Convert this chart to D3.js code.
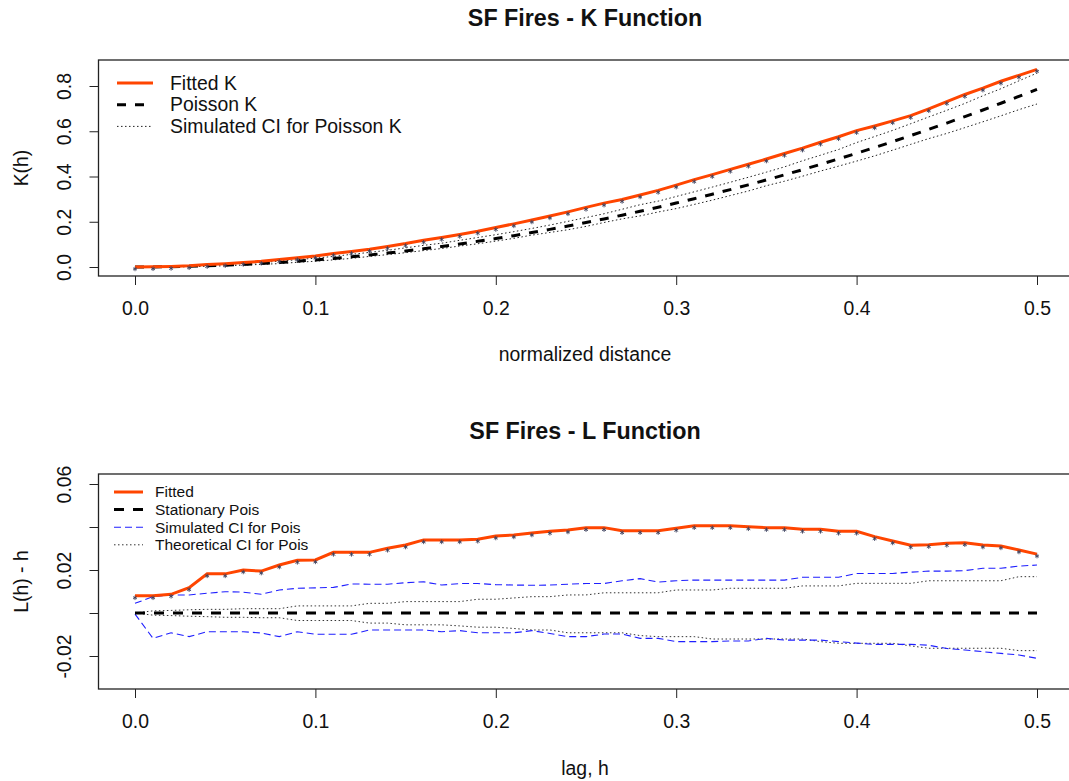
<!DOCTYPE html>
<html>
<head>
<meta charset="utf-8">
<script src="https://cdn.jsdelivr.net/npm/d3@7"></script>
<style>
  html, body { margin: 0; padding: 0; background: #fff; }
  svg { display: block; }
  text { font-family: "Liberation Sans", Arial, sans-serif; fill: #111; }
</style>
</head>
<body>
<svg id="chart" width="1069" height="781"></svg>
<script>
// lag values (normalized distance)
const hVals = [0.00, 0.01, 0.02, 0.03, 0.04, 0.05, 0.06, 0.07, 0.08, 0.09,
               0.10, 0.11, 0.12, 0.13, 0.14, 0.15, 0.16, 0.17, 0.18, 0.19,
               0.20, 0.21, 0.22, 0.23, 0.24, 0.25, 0.26, 0.27, 0.28, 0.29,
               0.30, 0.31, 0.32, 0.33, 0.34, 0.35, 0.36, 0.37, 0.38, 0.39,
               0.40, 0.41, 0.42, 0.43, 0.44, 0.45, 0.46, 0.47, 0.48, 0.49, 0.50];

// K function panel
const kFitted = [0.0002, 0.0010, 0.0026, 0.0055, 0.0106, 0.0146, 0.0201, 0.0252, 0.0329, 0.0412,
                 0.0489, 0.0600, 0.0690, 0.0786, 0.0909, 0.1036, 0.1182, 0.1307, 0.1439, 0.1581,
                 0.1747, 0.1906, 0.2078, 0.2256, 0.2438, 0.2637, 0.2822, 0.2986, 0.3183, 0.3386,
                 0.3619, 0.3862, 0.4085, 0.4315, 0.4539, 0.4771, 0.5019, 0.5253, 0.5513, 0.5755,
                 0.6027, 0.6235, 0.6461, 0.6691, 0.6993, 0.7311, 0.7626, 0.7904, 0.8210, 0.8472, 0.8738];
const kPoisson = [0.0000, 0.0003, 0.0013, 0.0028, 0.0050, 0.0079, 0.0113, 0.0154, 0.0201, 0.0254,
                  0.0314, 0.0380, 0.0452, 0.0531, 0.0616, 0.0707, 0.0804, 0.0908, 0.1018, 0.1134,
                  0.1257, 0.1385, 0.1521, 0.1662, 0.1810, 0.1963, 0.2124, 0.2290, 0.2463, 0.2642,
                  0.2827, 0.3019, 0.3217, 0.3421, 0.3632, 0.3848, 0.4072, 0.4301, 0.4536, 0.4778,
                  0.5027, 0.5281, 0.5542, 0.5809, 0.6082, 0.6362, 0.6648, 0.6940, 0.7238, 0.7543, 0.7854];
const kSimUpper = [0.0001, 0.0010, 0.0025, 0.0046, 0.0076, 0.0113, 0.0153, 0.0195, 0.0258, 0.0324,
                   0.0392, 0.0467, 0.0560, 0.0646, 0.0739, 0.0846, 0.0957, 0.1052, 0.1179, 0.1304,
                   0.1428, 0.1562, 0.1704, 0.1855, 0.2017, 0.2185, 0.2353, 0.2552, 0.2753, 0.2911,
                   0.3117, 0.3324, 0.3532, 0.3746, 0.3966, 0.4192, 0.4425, 0.4695, 0.4941, 0.5194,
                   0.5500, 0.5766, 0.6038, 0.6333, 0.6633, 0.6925, 0.7229, 0.7568, 0.7879, 0.8229, 0.8570];
const kSimLower = [0.0000, 0.0002, 0.0004, 0.0011, 0.0031, 0.0054, 0.0083, 0.0116, 0.0150, 0.0208,
                   0.0255, 0.0315, 0.0381, 0.0468, 0.0548, 0.0634, 0.0727, 0.0817, 0.0927, 0.1027,
                   0.1144, 0.1267, 0.1409, 0.1527, 0.1647, 0.1795, 0.1967, 0.2127, 0.2260, 0.2431,
                   0.2582, 0.2766, 0.2955, 0.3157, 0.3359, 0.3593, 0.3791, 0.4013, 0.4241, 0.4458,
                   0.4681, 0.4912, 0.5163, 0.5421, 0.5675, 0.5904, 0.6160, 0.6418, 0.6682, 0.6955, 0.7205];

// L function panel (L(h) - h)
const lFitted = [0.0080, 0.0080, 0.0087, 0.0118, 0.0182, 0.0182, 0.0200, 0.0195, 0.0223, 0.0245,
                 0.0247, 0.0282, 0.0282, 0.0282, 0.0301, 0.0316, 0.0340, 0.0340, 0.0340, 0.0343,
                 0.0358, 0.0363, 0.0372, 0.0380, 0.0386, 0.0397, 0.0397, 0.0383, 0.0383, 0.0383,
                 0.0394, 0.0406, 0.0406, 0.0406, 0.0401, 0.0397, 0.0397, 0.0389, 0.0389, 0.0380,
                 0.0380, 0.0355, 0.0335, 0.0315, 0.0318, 0.0324, 0.0327, 0.0316, 0.0312, 0.0293, 0.0274];
const lStationary = [0, 0, 0, 0, 0, 0, 0, 0, 0, 0,
                     0, 0, 0, 0, 0, 0, 0, 0, 0, 0,
                     0, 0, 0, 0, 0, 0, 0, 0, 0, 0,
                     0, 0, 0, 0, 0, 0, 0, 0, 0, 0,
                     0, 0, 0, 0, 0, 0, 0, 0, 0, 0, 0];
const lSimUpper = [0.0045, 0.0076, 0.0084, 0.0084, 0.0092, 0.0099, 0.0097, 0.0087, 0.0107, 0.0115,
                   0.0117, 0.0119, 0.0135, 0.0134, 0.0134, 0.0141, 0.0145, 0.0130, 0.0137, 0.0137,
                   0.0132, 0.0130, 0.0129, 0.0130, 0.0134, 0.0137, 0.0137, 0.0150, 0.0160, 0.0144,
                   0.0150, 0.0153, 0.0153, 0.0153, 0.0153, 0.0153, 0.0153, 0.0166, 0.0166, 0.0166,
                   0.0184, 0.0184, 0.0184, 0.0190, 0.0195, 0.0195, 0.0197, 0.0208, 0.0208, 0.0218, 0.0223];
const lSimLower = [-0.0005, -0.0118, -0.0092, -0.0110, -0.0087, -0.0087, -0.0087, -0.0093, -0.0110, -0.0087,
                   -0.0099, -0.0099, -0.0099, -0.0079, -0.0079, -0.0079, -0.0079, -0.0087, -0.0082, -0.0092,
                   -0.0092, -0.0092, -0.0082, -0.0095, -0.0110, -0.0110, -0.0098, -0.0098, -0.0118, -0.0118,
                   -0.0133, -0.0133, -0.0133, -0.0130, -0.0130, -0.0118, -0.0126, -0.0126, -0.0126, -0.0133,
                   -0.0140, -0.0146, -0.0146, -0.0146, -0.0150, -0.0165, -0.0172, -0.0180, -0.0188, -0.0195, -0.0211];
const lTheoUpper = [0.0000, 0.0010, 0.0012, 0.0015, 0.0017, 0.0017, 0.0020, 0.0020, 0.0020, 0.0033,
                    0.0033, 0.0033, 0.0033, 0.0045, 0.0045, 0.0053, 0.0053, 0.0053, 0.0053, 0.0064,
                    0.0064, 0.0070, 0.0076, 0.0076, 0.0084, 0.0084, 0.0094, 0.0094, 0.0094, 0.0094,
                    0.0107, 0.0107, 0.0107, 0.0115, 0.0115, 0.0115, 0.0115, 0.0126, 0.0126, 0.0126,
                    0.0138, 0.0138, 0.0138, 0.0138, 0.0150, 0.0150, 0.0150, 0.0150, 0.0150, 0.0169, 0.0169];
const lTheoLower = [0.0000, -0.0010, -0.0012, -0.0015, -0.0017, -0.0020, -0.0020, -0.0022, -0.0022, -0.0035,
                    -0.0035, -0.0035, -0.0035, -0.0047, -0.0047, -0.0055, -0.0055, -0.0055, -0.0060, -0.0066,
                    -0.0066, -0.0072, -0.0079, -0.0079, -0.0092, -0.0092, -0.0092, -0.0092, -0.0105, -0.0110,
                    -0.0110, -0.0110, -0.0121, -0.0121, -0.0121, -0.0121, -0.0121, -0.0121, -0.0133, -0.0141,
                    -0.0141, -0.0141, -0.0141, -0.0153, -0.0164, -0.0164, -0.0164, -0.0164, -0.0164, -0.0175, -0.0175];

// ticks
const xTicks = [0, 0.1, 0.2, 0.3, 0.4, 0.5];
const xTickLabels = ["0.0", "0.1", "0.2", "0.3", "0.4", "0.5"];
const kTicks = [0, 0.2, 0.4, 0.6, 0.8];
const kTickLabels = ["0.0", "0.2", "0.4", "0.6", "0.8"];
const lTicks = [-0.02, 0, 0.02, 0.04, 0.06];
const lTickLabels = ["-0.02", "", "0.02", "", "0.06"];

const ORANGE = "#ff4500";
const FONT = 19.4;

const svg = d3.select("#chart");

const x = d3.scaleLinear().domain([0, 0.5]).range([135, 1037]);

function drawPanel(cfg) {
    const g = svg.append("g");
    const y = cfg.y;

    // title
    g.append("text")
        .attr("x", 585).attr("y", cfg.titleY)
        .attr("text-anchor", "middle").attr("dy", "0.35em")
        .style("font-size", "23.3px").style("font-weight", "bold")
        .text(cfg.title);

    // x axis
    const xAxis = g.append("g")
        .attr("transform", `translate(0,${cfg.bottom})`)
        .call(d3.axisBottom(x).tickValues(xTicks).tickSize(9)
            .tickFormat((d, i) => xTickLabels[i]));
    xAxis.select(".domain").remove();
    xAxis.selectAll("line").attr("stroke", "#222");
    xAxis.selectAll("text")
        .attr("y", 32).attr("dy", "0.35em")
        .style("font-size", FONT + "px").attr("fill", "#111");

    // y axis
    const yAxis = g.append("g")
        .attr("transform", `translate(${cfg.left},0)`)
        .call(d3.axisLeft(y).tickValues(cfg.yTicks).tickSize(9)
            .tickFormat((d, i) => cfg.yTickLabels[i]));
    yAxis.select(".domain").remove();
    yAxis.selectAll("line").attr("stroke", "#222");
    yAxis.selectAll("text")
        .attr("x", null).attr("dy", null)
        .attr("text-anchor", "middle")
        .attr("transform", "translate(-34,0) rotate(-90)")
        .attr("dy", "0.35em")
        .style("font-size", FONT + "px").attr("fill", "#111");

    // axis titles
    g.append("text")
        .attr("x", 585).attr("y", cfg.xlabY).attr("dy", "0.35em")
        .attr("text-anchor", "middle").style("font-size", FONT + "px")
        .text(cfg.xlab);
    g.append("text")
        .attr("transform", `translate(21,${(cfg.top + cfg.bottom) / 2}) rotate(-90)`)
        .attr("dy", "0.35em")
        .attr("text-anchor", "middle").style("font-size", FONT + "px")
        .text(cfg.ylab);

    // series
    const line = d3.line().x((d, i) => x(hVals[i])).y(d => y(d));
    cfg.series.forEach(s => {
        g.append("path")
            .datum(s.values)
            .attr("d", line)
            .attr("fill", "none")
            .attr("stroke", s.color)
            .attr("stroke-width", s.width)
            .attr("stroke-dasharray", s.dash || null);
        if (s.markers) {
            g.append("g").selectAll("path")
                .data(s.values)
                .join("path")
                .attr("d", d3.symbol(d3.symbolAsterisk, 14))
                .attr("transform", (d, i) => `translate(${x(hVals[i])},${y(d) + 2})`)
                .attr("fill", "none")
                .attr("stroke", "#3b3f5c")
                .attr("stroke-width", 0.9);
        }
    });

    // box
    g.append("rect")
        .attr("x", cfg.left).attr("y", cfg.top)
        .attr("width", 1074 - cfg.left).attr("height", cfg.bottom - cfg.top)
        .attr("fill", "none").attr("stroke", "#222").attr("stroke-width", 1.3);

    // legend
    const lg = g.append("g");
    cfg.legend.items.forEach((s, i) => {
        const ly = cfg.legend.y + i * cfg.legend.step;
        lg.append("line")
            .attr("x1", cfg.legend.x1).attr("x2", cfg.legend.x2)
            .attr("y1", ly).attr("y2", ly)
            .attr("stroke", s.color).attr("stroke-width", s.width)
            .attr("stroke-dasharray", s.dash || null);
        lg.append("text")
            .attr("x", cfg.legend.tx).attr("y", ly).attr("dy", "0.35em")
            .style("font-size", cfg.legend.size + "px")
            .text(s.label);
    });
}

// top panel: K function
const kSeries = [
    { label: "Simulated CI for Poisson K", values: kSimUpper, color: "#222", width: 1, dash: "1.5,2.5" },
    { label: null, values: kSimLower, color: "#222", width: 1, dash: "1.5,2.5" },
    { label: "Poisson K", values: kPoisson, color: "#000", width: 3, dash: "9,9" },
    { label: "Fitted K", values: kFitted, color: ORANGE, width: 3, markers: true }
];
drawPanel({
    title: "SF Fires - K Function", titleY: 18,
    top: 60, bottom: 276, left: 98.5,
    y: d3.scaleLinear().domain([0, 0.8]).range([267, 86]),
    yTicks: kTicks, yTickLabels: kTickLabels,
    xlab: "normalized distance", xlabY: 354, ylab: "K(h)",
    series: kSeries,
    legend: {
        x1: 117, x2: 153, tx: 170, y: 83, step: 21.7, size: FONT,
        items: [kSeries[3], kSeries[2], kSeries[0]]
    }
});

// bottom panel: L function
const lSeries = [
    { label: "Theoretical CI for Pois", values: lTheoUpper, color: "#333", width: 1, dash: "1.5,2.5" },
    { label: null, values: lTheoLower, color: "#333", width: 1, dash: "1.5,2.5" },
    { label: "Simulated CI for Pois", values: lSimUpper, color: "#1f1fff", width: 1.1, dash: "7,4" },
    { label: null, values: lSimLower, color: "#1f1fff", width: 1.1, dash: "7,4" },
    { label: "Stationary Pois", values: lStationary, color: "#000", width: 3, dash: "10,9" },
    { label: "Fitted", values: lFitted, color: ORANGE, width: 3, markers: true }
];
drawPanel({
    title: "SF Fires - L Function", titleY: 431,
    top: 474, bottom: 689, left: 98.5,
    y: d3.scaleLinear().domain([-0.02, 0.06]).range([656, 484]),
    yTicks: lTicks, yTickLabels: lTickLabels,
    xlab: "lag, h", xlabY: 768, ylab: "L(h) - h",
    series: lSeries,
    legend: {
        x1: 114, x2: 143, tx: 155, y: 492, step: 17.6, size: 15.5,
        items: [lSeries[5], lSeries[4], lSeries[2], lSeries[0]]
    }
});
</script>
</body>
</html>
